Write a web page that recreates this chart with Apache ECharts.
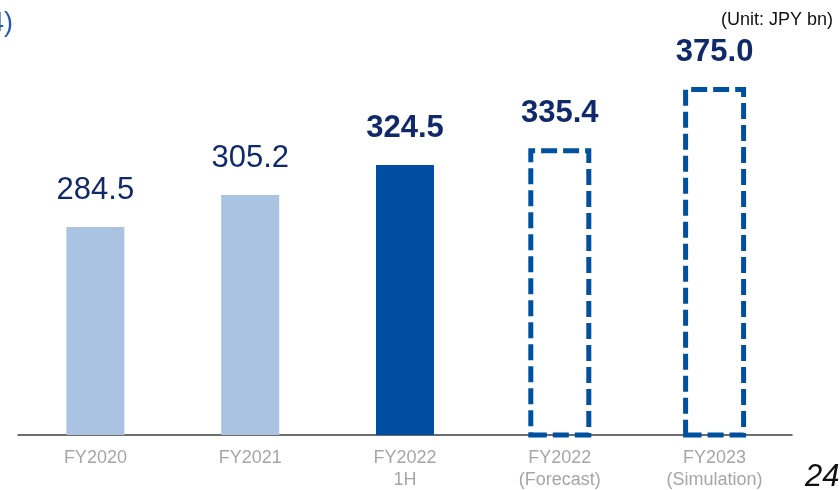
<!DOCTYPE html>
<html>
<head>
<meta charset="utf-8">
<script src="https://cdn.jsdelivr.net/npm/echarts@6/dist/echarts.min.js"></script>
<style>
  html, body { margin: 0; padding: 0; background: #ffffff; }
  #chart { width: 840px; height: 490px; }
</style>
</head>
<body>
<div id="chart"></div>
<script>
// Revenue by fiscal year (JPY bn)
const categories = ['FY2020', 'FY2021', 'FY2022\n1H', 'FY2022\n(Forecast)', 'FY2023\n(Simulation)'];
const values = [284.5, 305.2, 324.5, 335.4, 375.0];

// Bar treatment per category: actual years, latest actual, projections
const barKinds = ['past', 'past', 'current', 'outlook', 'outlook'];

const LIGHT = '#A9C3E0';
const SOLID = '#004EA2';
const DASH = '#0050A0';
const LABEL = '#10296B';
const FONT = '"Liberation Sans", Arial, sans-serif';

const labelBase = {
  show: true,
  position: 'top',
  color: LABEL,
  fontFamily: FONT,
  fontSize: 31,
  formatter: p => p.value.toFixed(1)
};

// Actual results: filled bars
const actualData = values.map((v, i) => {
  const kind = barKinds[i];
  if (kind === 'outlook') return '-';
  return {
    value: v,
    itemStyle: { color: kind === 'past' ? LIGHT : SOLID },
    label: { fontWeight: kind === 'past' ? 'normal' : 'bold' }
  };
});

// Projections: dashed outlines
const outlookData = values.map((v, i) => barKinds[i] === 'outlook' ? v : '-');

const catAxis = (show) => ({
  type: 'category',
  data: categories,
  show: show,
  position: 'bottom',
  axisLine: { show: true, lineStyle: { color: '#3c3c3c', width: 1.5 } },
  axisTick: { show: false },
  axisLabel: {
    color: '#A6A6A6',
    fontFamily: FONT,
    fontSize: 18,
    lineHeight: 22,
    margin: 12,
    interval: 0
  }
});

const chart = echarts.init(document.getElementById('chart'), null, { renderer: 'canvas' });
chart.setOption({
  animation: false,
  grid: {
    left: 18, right: 48, top: 48.25, bottom: 55,
    containLabel: false,
    outerBoundsMode: 'none'
  },
  xAxis: [catAxis(true), catAxis(false)],
  yAxis: {
    type: 'value',
    min: 150,
    max: 400,
    show: false,
    splitLine: { show: false }
  },
  series: [
    {
      type: 'bar',
      xAxisIndex: 0,
      data: actualData,
      barWidth: 58,
      label: Object.assign({}, labelBase, { distance: 21 })
    },
    {
      type: 'bar',
      xAxisIndex: 1,
      data: outlookData,
      barWidth: 63,
      z: 3,
      itemStyle: {
        color: 'rgba(0,0,0,0)',
        borderColor: DASH,
        borderWidth: 5,
        borderType: [16, 6]
      },
      label: Object.assign({}, labelBase, { distance: 19, fontWeight: 'bold' })
    }
  ],
  graphic: [
    {
      type: 'text',
      left: -11,
      top: 10,
      style: {
        text: '4)',
        fill: '#1F5BB5',
        font: '27px ' + FONT
      }
    },
    {
      type: 'text',
      right: 7,
      top: 11,
      style: {
        text: '(Unit: JPY bn)',
        fill: '#111111',
        font: '18px ' + FONT
      }
    },
    {
      type: 'text',
      left: 805,
      top: 462,
      style: {
        text: '24',
        fill: '#111111',
        font: 'italic 31px ' + FONT
      }
    }
  ]
});
</script>
</body>
</html>
